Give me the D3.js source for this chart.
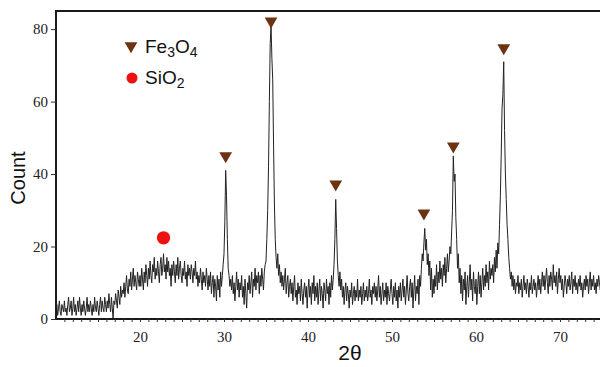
<!DOCTYPE html>
<html>
<head>
<meta charset="utf-8">
<script src="https://cdn.jsdelivr.net/npm/d3@7"></script>
<style>
  html, body { margin: 0; padding: 0; background: #fff; }
  svg { display: block; }
  .tick text { font-family: "Liberation Serif", "Times New Roman", serif; font-size: 15px; fill: #222; }
</style>
</head>
<body>
<div id="chart"></div>
<script>
// 2-theta sampling grid
const thetaStart = 10;
const thetaStep = 0.1;

// intensity counts (one row = 1 degree, 10 samples)
const counts = [
  2, 4, 1, 3, 5, 2, 1, 4, 3, 2,
  5, 2, 3, 1, 4, 6, 2, 3, 5, 1,
  3, 6, 2, 4, 1, 3, 5, 2, 6, 3,
  1, 4, 2, 5, 3, 1, 3, 6, 2, 4,
  2, 5, 3, 1, 4, 2, 6, 3, 2, 5,
  3, 1, 4, 6, 2, 5, 3, 2, 6, 4,
  2, 5, 3, 7, 4, 2, 6, 3, 0, 5,
  4, 7, 5, 3, 8, 6, 4, 9, 6, 8,
  7, 10, 6, 9, 12, 8, 7, 11, 9, 13,
  8, 11, 14, 9, 12, 10, 8, 13, 11, 9,
  12, 9, 14, 11, 8, 13, 10, 15, 12, 9,
  14, 11, 16, 12, 10, 15, 13, 17, 11, 14,
  12, 16, 13, 10, 15, 17, 12, 14, 18, 13,
  15, 11, 17, 13, 16, 12, 14, 9, 15, 12,
  16, 13, 10, 15, 12, 17, 11, 14, 16, 12,
  10, 14, 12, 16, 11, 13, 9, 15, 12, 14,
  11, 15, 13, 10, 14, 12, 16, 11, 13, 9,
  12, 10, 14, 11, 8, 13, 10, 12, 9, 14,
  11, 8, 12, 9, 13, 7, 10, 12, 6, 11,
  9, 5, 12, 8, 11, 6, 13, 9, 12, 15,
  18, 27, 41, 34, 22, 14, 12, 9, 11, 8,   // 30
  12, 7, 10, 5, 9, 13, 8, 11, 6, 10,
  8, 12, 6, 9, 4, 11, 7, 3, 10, 8,
  12, 7, 10, 13, 6, 11, 9, 14, 8, 12,
  10, 13, 7, 12, 9, 14, 11, 8, 13, 15,
  16, 22, 30, 42, 60, 76, 81, 72, 66, 48, // 35
  32, 22, 17, 14, 18, 12, 15, 10, 13, 9,
  12, 8, 11, 14, 7, 10, 12, 6, 9, 11,
  7, 10, 5, 9, 12, 6, 8, 4, 10, 7,
  9, 5, 11, 7, 4, 8, 10, 6, 9, 3,
  8, 11, 6, 9, 4, 10, 7, 12, 5, 9,       // 40
  6, 10, 4, 8, 11, 5, 9, 7, 3, 10,
  8, 5, 11, 7, 9, 4, 10, 6, 12, 8,
  11, 15, 22, 33, 25, 16, 12, 9, 13, 8,
  11, 6, 9, 4, 8, 10, 5, 9, 7, 3,
  8, 6, 10, 4, 7, 9, 5, 8, 6, 11,        // 45
  5, 8, 6, 9, 4, 7, 10, 5, 8, 6,
  9, 5, 7, 11, 6, 8, 4, 9, 7, 10,
  6, 9, 5, 8, 12, 6, 9, 4, 7, 10,
  5, 8, 6, 10, 4, 9, 7, 5, 8, 11,
  7, 4, 9, 6, 10, 5, 8, 3, 9, 6,         // 50
  10, 5, 8, 11, 6, 9, 4, 8, 12, 7,
  5, 9, 11, 6, 10, 3, 8, 12, 5, 9,
  7, 11, 4, 12, 9, 14, 18, 16, 21, 25,
  19, 22, 15, 18, 12, 16, 8, 14, 6, 11,
  7, 12, 9, 15, 8, 13, 10, 16, 11, 14,   // 55
  9, 15, 12, 17, 10, 14, 18, 13, 16, 20,
  18, 24, 30, 45, 38, 40, 28, 22, 14, 18,
  10, 14, 7, 12, 5, 11, 8, 13, 4, 9,
  12, 6, 10, 15, 8, 11, 5, 13, 9, 7,
  11, 4, 9, 13, 7, 12, 6, 10, 14, 8,     // 60
  12, 9, 15, 10, 13, 8, 16, 11, 14, 12,
  15, 10, 17, 13, 19, 14, 21, 18, 26, 34,
  45, 58, 62, 71, 52, 40, 33, 26, 22, 17,
  14, 11, 13, 9, 12, 8, 11, 7, 10, 9,
  12, 7, 10, 8, 11, 6, 9, 12, 8, 10,     // 65
  7, 11, 9, 6, 10, 8, 12, 7, 9, 11,
  8, 10, 6, 9, 12, 8, 11, 7, 10, 13,
  9, 12, 8, 11, 14, 10, 7, 12, 9, 13,
  11, 8, 15, 10, 12, 9, 13, 7, 11, 14,
  10, 12, 8, 11, 6, 9, 12, 10, 7, 11,    // 70
  9, 12, 8, 10, 13, 7, 11, 9, 12, 8,
  10, 7, 11, 9, 12, 8, 10, 6, 9, 11,
  8, 12, 9, 11, 7, 10, 13, 8, 11, 9,
  12, 8, 10, 7, 11, 9, 12, 10, 8, 13,
  10
];

// Fe3O4 peak markers (2theta, marker height)
const fePeakTheta = [30.2, 35.6, 43.3, 53.8, 57.3, 63.3];
const fePeakLevel = [45, 82.2, 37.2, 29.2, 47.7, 74.8];

// SiO2 marker
const siPeakTheta = [22.8];
const siPeakLevel = [22.4];

const xTicks = [20, 30, 40, 50, 60, 70];
const yTicks = [0, 20, 40, 60, 80];

const width = 600, height = 367;
const margin = { top: 11, right: -2, bottom: 48, left: 56 };

const svg = d3.select("#chart").append("svg")
  .attr("width", width)
  .attr("height", height);

const x = d3.scaleLinear().domain([10, 75]).range([margin.left, width - margin.right]);
const y = d3.scaleLinear().domain([0, 85]).range([height - margin.bottom, margin.top]);

const data = counts.map((c, i) => ({ t: thetaStart + i * thetaStep, c: c }));

// trace
const line = d3.line()
  .x(d => x(d.t))
  .y(d => y(d.c));

svg.append("path")
  .datum(data)
  .attr("fill", "none")
  .attr("stroke", "#222")
  .attr("stroke-width", 1)
  .attr("stroke-linejoin", "miter")
  .attr("d", line);

// top frame line
svg.append("line")
  .attr("x1", x(10) - 1).attr("x2", width)
  .attr("y1", y(85)).attr("y2", y(85))
  .attr("stroke", "#1a1a1a")
  .attr("stroke-width", 2);

// x axis: minor ticks every degree, labelled every 10
const xAxis = d3.axisBottom(x)
  .tickValues(d3.range(11, 76))
  .tickSize(3)
  .tickFormat(d => xTicks.includes(d) ? d : "");

const gx = svg.append("g")
  .attr("transform", `translate(0,${y(0)})`)
  .call(xAxis);
gx.select(".domain").attr("stroke", "#1a1a1a").attr("stroke-width", 2)
  .attr("d", `M${x(10) - 1},0H${width}`);
gx.selectAll(".tick line").attr("stroke", "#333").attr("stroke-width", 1);
gx.selectAll(".tick text").attr("dy", "1.1em");

// y axis
const yAxis = d3.axisLeft(y)
  .tickValues(yTicks)
  .tickSize(5)
  .tickPadding(3);

const gy = svg.append("g")
  .attr("transform", `translate(${x(10)},0)`)
  .call(yAxis);
gy.select(".domain").attr("stroke", "#1a1a1a").attr("stroke-width", 2)
  .attr("d", `M0,${y(85) - 1}V${y(0) + 1}`);
gy.selectAll(".tick line").attr("stroke", "#333").attr("stroke-width", 1);

// axis titles
svg.append("text")
  .attr("transform", `translate(25,${178}) rotate(-90)`)
  .attr("text-anchor", "middle")
  .style("font-family", "'Liberation Sans', Arial, sans-serif")
  .style("font-size", "20px")
  .attr("fill", "#111")
  .text("Count");

svg.append("text")
  .attr("x", 350)
  .attr("y", 360)
  .attr("text-anchor", "middle")
  .style("font-family", "'Liberation Sans', Arial, sans-serif")
  .style("font-size", "21px")
  .attr("fill", "#111")
  .text("2θ");

// peak markers
const triColor = "#6b3312";
const tri = d3.symbol().type(d3.symbolTriangle).size(70);

svg.selectAll(".fe")
  .data(fePeakTheta.map((t, i) => ({ t: t, v: fePeakLevel[i] })))
  .enter().append("path")
  .attr("class", "fe")
  .attr("d", tri)
  .attr("fill", triColor)
  .attr("transform", d => `translate(${x(d.t)},${y(d.v)}) rotate(180)`);

svg.selectAll(".si")
  .data(siPeakTheta.map((t, i) => ({ t: t, v: siPeakLevel[i] })))
  .enter().append("circle")
  .attr("class", "si")
  .attr("cx", d => x(d.t))
  .attr("cy", d => y(d.v))
  .attr("r", 6.7)
  .attr("fill", "#ee1111");

// legend
const legend = svg.append("g")
  .style("font-family", "'Liberation Sans', Arial, sans-serif")
  .attr("fill", "#111");

legend.append("path")
  .attr("d", tri)
  .attr("fill", triColor)
  .attr("transform", "translate(131,46) rotate(180)");

const feText = legend.append("text")
  .attr("x", 145).attr("y", 53)
  .style("font-size", "19px");
feText.append("tspan").text("Fe");
feText.append("tspan").attr("dy", 4).style("font-size", "14px").text("3");
feText.append("tspan").attr("dy", -4).text("O");
feText.append("tspan").attr("dy", 4).style("font-size", "14px").text("4");

legend.append("circle")
  .attr("cx", 132).attr("cy", 78).attr("r", 5.5)
  .attr("fill", "#ee1111");

const siText = legend.append("text")
  .attr("x", 145).attr("y", 84)
  .style("font-size", "19px");
siText.append("tspan").text("SiO");
siText.append("tspan").attr("dy", 4).style("font-size", "14px").text("2");
</script>
</body>
</html>
